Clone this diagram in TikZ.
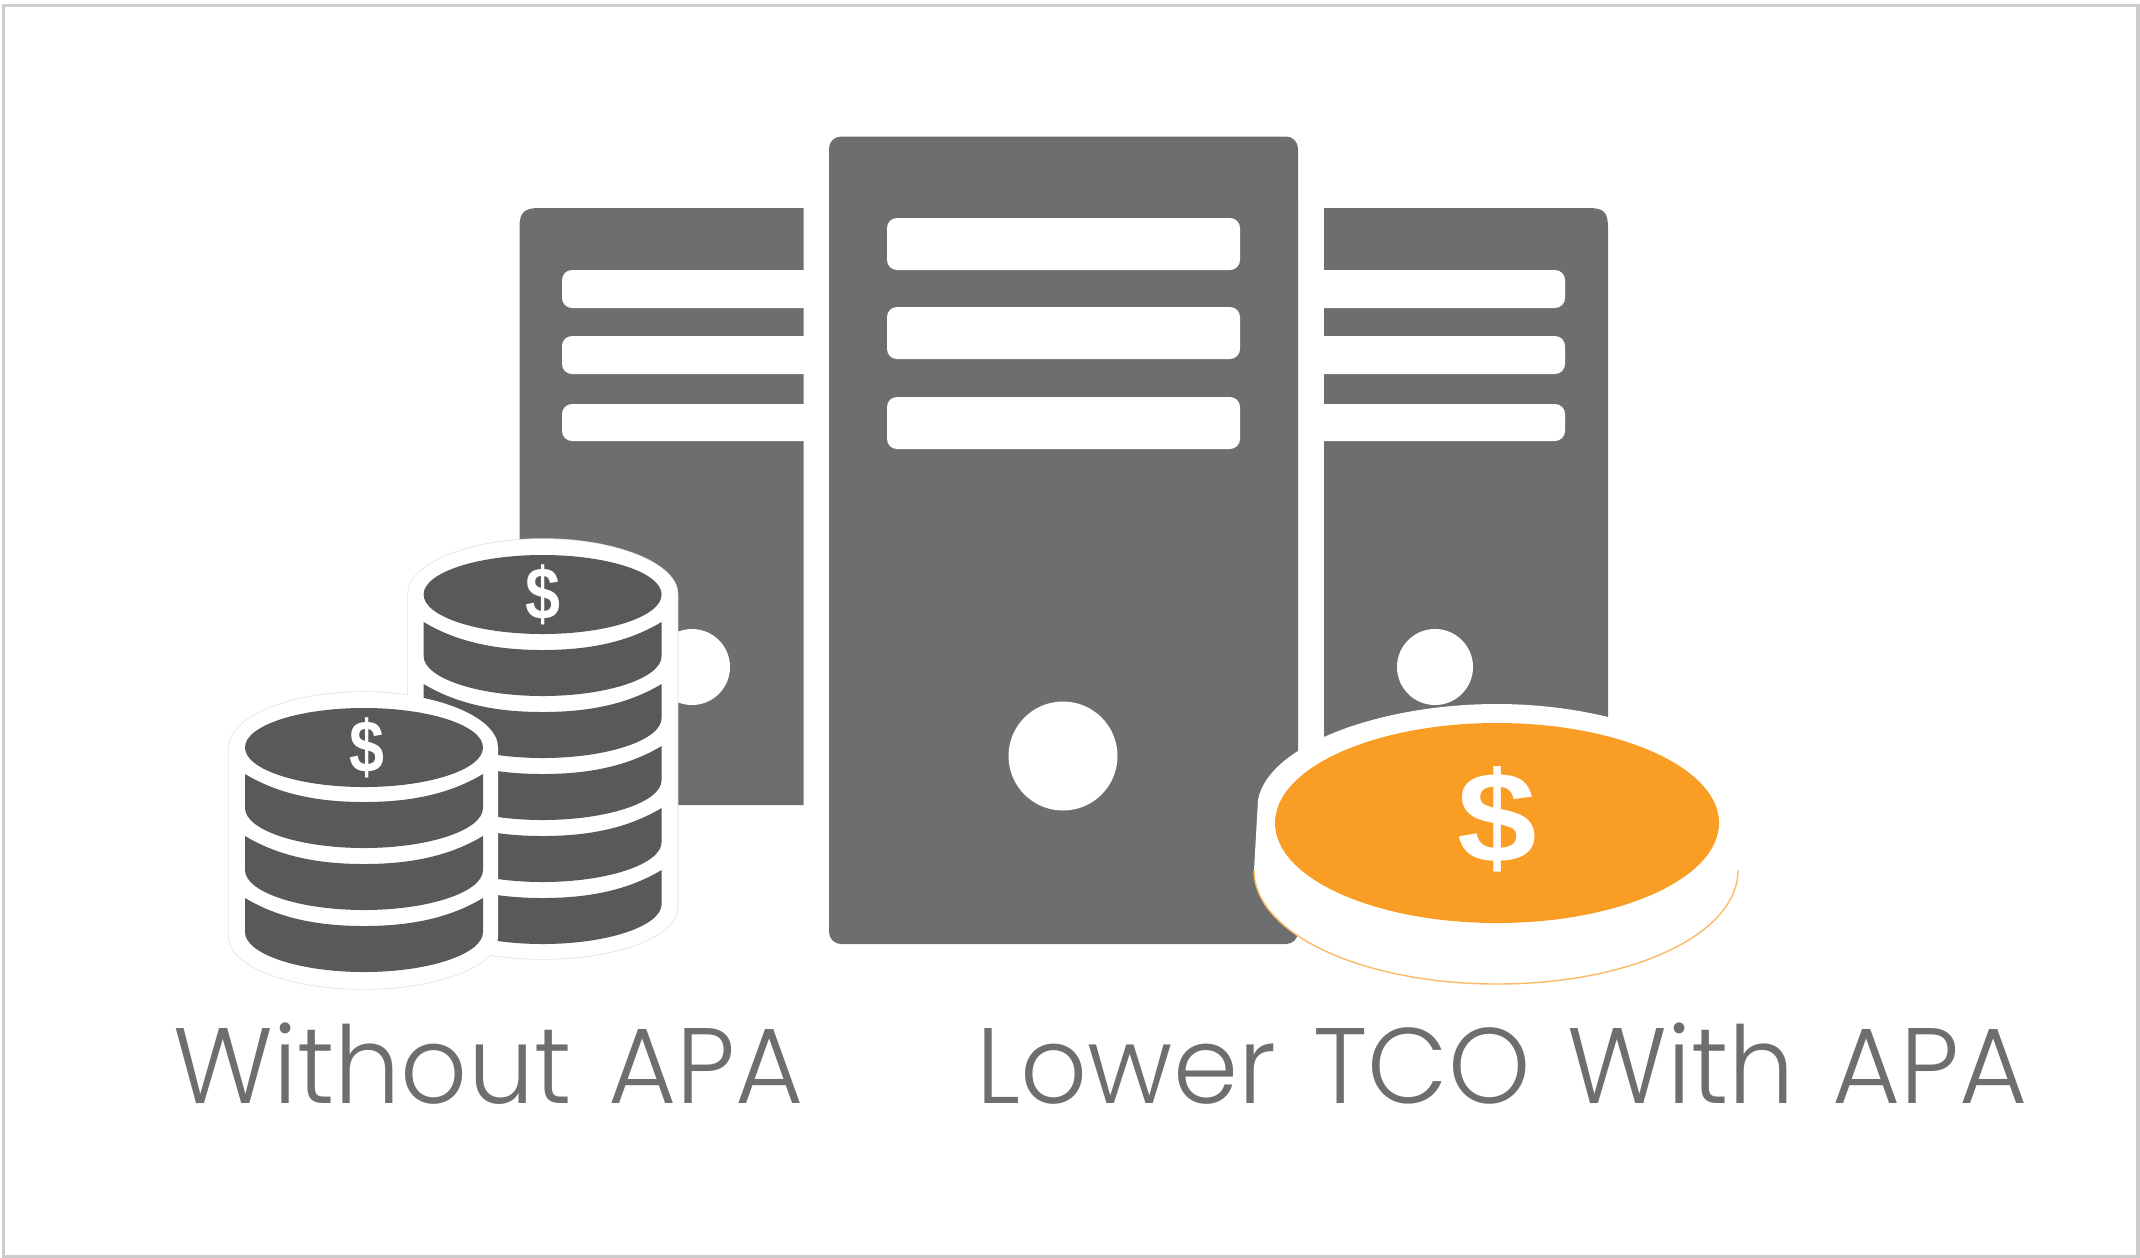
\documentclass[tikz,border=0pt]{standalone}
\usepackage{fontspec}
\setmainfont{Poppins}[UprightFont=* Light, WordSpace=1.3]
\newfontfamily\dollarfont{Liberation Sans}[BoldFont=* Bold]
\usepackage{xcolor}
\definecolor{servergray}{HTML}{6D6E70}
\definecolor{coingray}{HTML}{58595B}
\definecolor{coinorange}{HTML}{F99D24}
\tikzset{
    server/.style={fill=servergray},
    slotbar/.style={fill=white, rounded corners=0.1cm},
    coinedge/.style={draw=black!12, line width=0.4pt},
    dollarsign/.style={text=white, inner sep=0pt, font=\dollarfont\bfseries\fontsize{21}{21}\selectfont, xscale=0.85},
    captiontext/.style={text=servergray, inner sep=0pt, anchor=base west, xscale=0.975, font=\fontsize{30.5}{30.5}\selectfont},
    coinband/.pic={
        \fill[coingray] (-119,0) .. controls (-84,21) and (-44,28) .. (0,28) .. controls (44,28) and (84,21) .. (119,0)
            -- (119,34) .. controls (119,56) and (65,74) .. (0,74) .. controls (-65,74) and (-119,56) .. (-119,34) -- cycle;
    }
}
% outline of a stack: left side x, right side x, top of the cap, where the sides start and end, middle x
\newcommand{\stackpath}[6]{(#1,#4) .. controls (#1,{#4-30}) and ({#6-74},#3) .. (#6,#3)
    .. controls ({#6+74},#3) and (#2,{#4-30}) .. (#2,#4) -- (#2,#5)
    .. controls (#2,{#5+29}) and ({#6+74},{#5+52}) .. (#6,{#5+52})
    .. controls ({#6-74},{#5+52}) and (#1,{#5+29}) .. (#1,#5) -- cycle}
\begin{document}
\begin{tikzpicture}[x=0.01cm, y=-0.01cm]
    \useasboundingbox (0,0) rectangle (2140,1257);

    % Frame
    \draw[black!20, line width=1pt] (3.5,5.5) rectangle (2138,1256.5);

    % Left server
    \fill[server] (519.5,805) -- (519.5,228) .. controls (519.5,212) and (524,208) .. (540,208) -- (803.5,208) -- (803.5,805) -- cycle;
    \foreach \y/\h in {270/308, 336/374, 404/441}
        \fill[slotbar] (562,\y) rectangle (825,\h);
    \fill[white] (692,667) circle (38);

    % Right server
    \fill[server] (1324,760) -- (1324,208) -- (1588,208) .. controls (1604,208) and (1608,212) .. (1608,228) -- (1608,760) -- cycle;
    \foreach \y/\h in {270/308, 336/374, 404/441}
        \fill[slotbar] (1302,\y) rectangle (1565,\h);
    \fill[white] (1435,667) circle (38);

    % Center server
    \fill[white] (803.5,200) rectangle (829,820);
    \fill[white] (1298,200) rectangle (1324,760);
    \fill[server, rounded corners=0.12cm] (829,136.5) rectangle (1298,944);
    \foreach \y/\h in {218/270, 307/359, 397/449}
        \fill[slotbar] (887,\y) rectangle (1240,\h);
    \fill[white] (1063,756) circle (54.5);

    % Orange coin
    \fill[white] (1258,800) .. controls (1268,745) and (1380,704) .. (1497,704)
        .. controls (1610,704) and (1725,745) .. (1737,800) -- (1738,870)
        .. controls (1738,935) and (1630,984) .. (1497,984)
        .. controls (1365,984) and (1254,935) .. (1254,870) -- cycle;
    \draw[coinorange!70, line width=0.4pt] (1738,870) .. controls (1738,935) and (1630,984) .. (1497,984)
        .. controls (1365,984) and (1254,935) .. (1254,870);
    \fill[coinorange] (1497,823) ellipse (222 and 100);
    \node[dollarsign, scale=1.75, xscale=1.3] (dollarbig) at (1497,819.5) {\$};

    % Gray coin stacks, edge first then the white body
    \draw[coinedge] \stackpath{408}{677.6}{539}{594}{907}{542.8};
    \draw[coinedge] \stackpath{229}{498}{692}{747.5}{937}{363.5};
    \fill[white] \stackpath{408}{677.6}{539}{594}{907}{542.8};

    % Right stack
    \fill[coingray] (542.6,594.5) ellipse (119 and 39.5);
    \foreach \y in {622, 684, 746, 808, 870}
        \pic at (542.6,\y) {coinband};
    \node[dollarsign] (dollarright) at (543,594.5) {\$};

    % Left stack
    \fill[white] \stackpath{229}{498}{692}{747.5}{937}{363.5};
    \fill[coingray] (364,747.5) ellipse (119 and 39.5);
    \foreach \y in {774, 836, 898}
        \pic at (364,\y) {coinband};
    \node[dollarsign] (dollarleft) at (367,747.5) {\$};

    % Captions
    \node[captiontext] (captionleft) at (173,1103) {Without APA};
    \node[captiontext] (captionright) at (976,1103) {Lower TCO With APA};
\end{tikzpicture}
\end{document}
